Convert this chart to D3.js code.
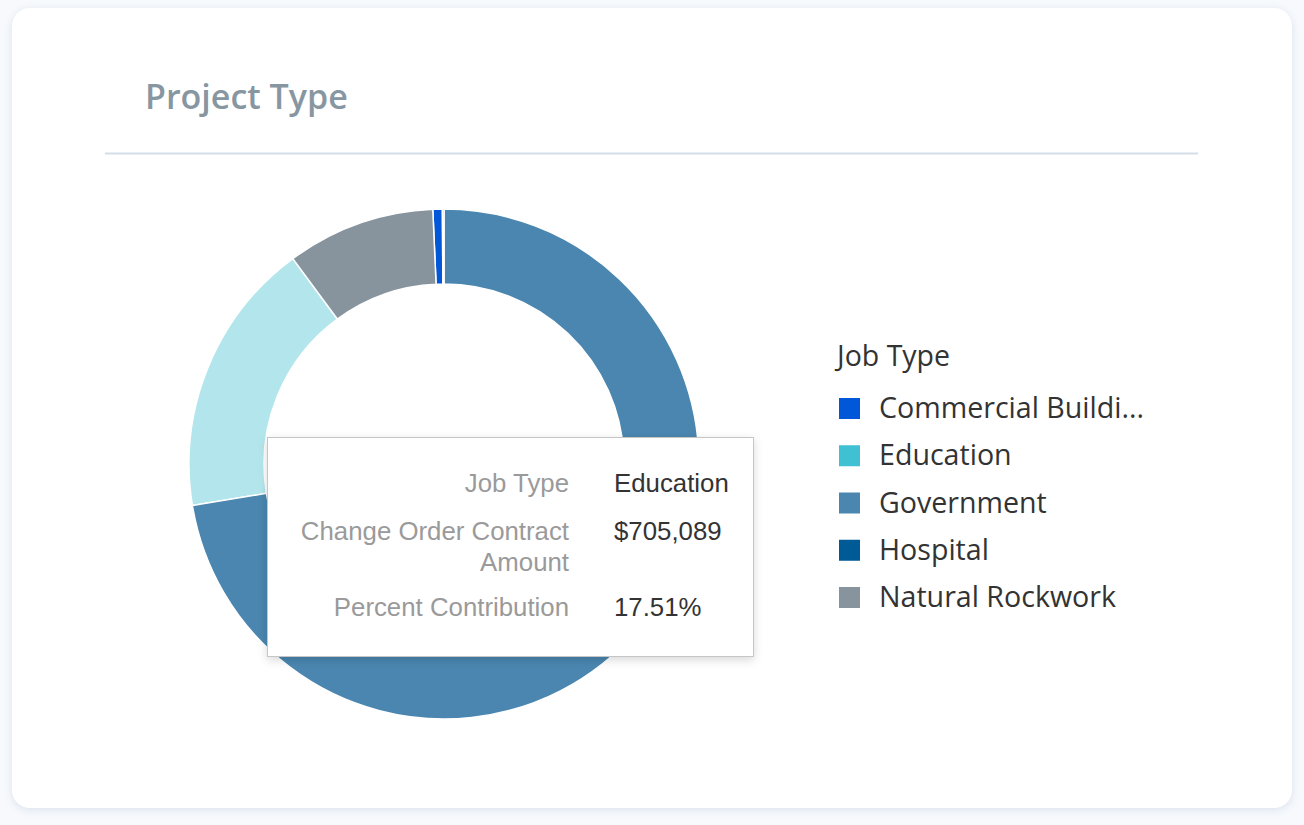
<!DOCTYPE html>
<html>
<head>
<meta charset="utf-8">
<script src="https://cdn.jsdelivr.net/npm/d3@7"></script>
<style>
  html, body { margin: 0; padding: 0; background: #f7f9fc; }
  svg { display: block; }
</style>
</head>
<body>
<div id="chart"></div>
<script>
// data
const jobTypes = ["Commercial Building", "Education", "Government", "Hospital", "Natural Rockwork"];
const amounts = [24200, 705089, 2915400, 4000, 378500];
const legendColors = ["#0057d8", "#3fc1d3", "#4a86b0", "#005a96", "#87949e"];
const sliceColors = ["#0057d8", "#b3e6ec", "#4a86b0", "#005a96", "#87949e"];
const hovered = "Education";

const width = 1304, height = 825;
const cx = 444, cy = 464, outerR = 255, innerR = 180;

const data = jobTypes.map((name, i) => ({ name, value: amounts[i] }));
const total = d3.sum(amounts);

const fill = d3.scaleOrdinal().domain(jobTypes).range(sliceColors);
const legendFill = d3.scaleOrdinal().domain(jobTypes).range(legendColors);

const svg = d3.select("#chart").append("svg")
    .attr("width", width)
    .attr("height", height);

const defs = svg.append("defs");
const shadow = defs.append("filter").attr("id", "cardShadow")
    .attr("x", "-5%").attr("y", "-5%").attr("width", "110%").attr("height", "110%");
shadow.append("feDropShadow").attr("dx", 0).attr("dy", 2).attr("stdDeviation", 4)
    .attr("flood-color", "#b8c8dc").attr("flood-opacity", 0.45);
const tipShadow = defs.append("filter").attr("id", "tipShadow")
    .attr("x", "-10%").attr("y", "-10%").attr("width", "120%").attr("height", "130%");
tipShadow.append("feDropShadow").attr("dx", 0).attr("dy", 3).attr("stdDeviation", 5)
    .attr("flood-color", "#000").attr("flood-opacity", 0.15);

// card
svg.append("rect")
    .attr("x", 12).attr("y", 8)
    .attr("width", 1280).attr("height", 800)
    .attr("rx", 18)
    .attr("fill", "#fff")
    .attr("filter", "url(#cardShadow)");

svg.append("text")
    .attr("x", 145).attr("y", 109)
    .attr("font-family", "'Open Sans', sans-serif")
    .attr("font-weight", 600)
    .attr("font-size", 34)
    .attr("fill", "#8796a1")
    .text("Project Type");

svg.append("line")
    .attr("x1", 105).attr("x2", 1198)
    .attr("y1", 153.5).attr("y2", 153.5)
    .attr("stroke", "#d3dee8")
    .attr("stroke-width", 2);

// donut
const pie = d3.pie().value(d => d.value).sort((a, b) => b.value - a.value);
const arc = d3.arc().innerRadius(innerR).outerRadius(outerR);

svg.append("g")
    .attr("transform", `translate(${cx},${cy})`)
    .selectAll("path")
    .data(pie(data))
    .join("path")
    .attr("d", arc)
    .attr("fill", d => fill(d.data.name))
    .attr("stroke", "#fff")
    .attr("stroke-width", 1.5);

// legend
const legend = svg.append("g")
    .attr("font-family", "'Open Sans', sans-serif");

legend.append("text")
    .attr("x", 837).attr("y", 366)
    .attr("font-size", 28.5)
    .attr("fill", "#333")
    .text("Job Type");

const rowY = d3.scalePoint().domain(jobTypes).range([408, 597]);
const truncate = s => s.length > 17 ? s.slice(0, 17) + "..." : s;

const items = legend.selectAll("g.item")
    .data(jobTypes)
    .join("g")
    .attr("class", "item")
    .attr("transform", d => `translate(839,${rowY(d)})`);

items.append("rect")
    .attr("x", 0).attr("y", -10)
    .attr("width", 21).attr("height", 21)
    .attr("fill", d => legendFill(d));

items.append("text")
    .attr("x", 40).attr("y", 10)
    .attr("font-size", 28.6)
    .attr("fill", "#333")
    .text(d => truncate(d));

// tooltip for the hovered slice
const hov = data.find(d => d.name === hovered);
const fmtMoney = d3.format("$,.0f");
const fmtPct = v => d3.format(".2f")(v * 100) + "%";

const tip = svg.append("g")
    .attr("font-family", "'Liberation Sans', Arial, Helvetica, sans-serif")
    .attr("font-size", 25.8);

tip.append("rect")
    .attr("x", 267.5).attr("y", 437.5)
    .attr("width", 486).attr("height", 219)
    .attr("fill", "#fff")
    .attr("stroke", "#c6c6c6")
    .attr("filter", "url(#tipShadow)");

const rows = [
    { label: ["Job Type"], value: hov.name, y: 492 },
    { label: ["Change Order Contract", "Amount"], value: fmtMoney(hov.value), y: 540 },
    { label: ["Percent Contribution"], value: fmtPct(hov.value / total), y: 616 }
];

rows.forEach(r => {
    r.label.forEach((line, i) => {
        tip.append("text")
            .attr("x", 569).attr("y", r.y + i * 31)
            .attr("text-anchor", "end")
            .attr("fill", "#9a9a9a")
            .text(line);
    });
    tip.append("text")
        .attr("x", 614).attr("y", r.y)
        .attr("fill", "#333")
        .text(r.value);
});
</script>
</body>
</html>
